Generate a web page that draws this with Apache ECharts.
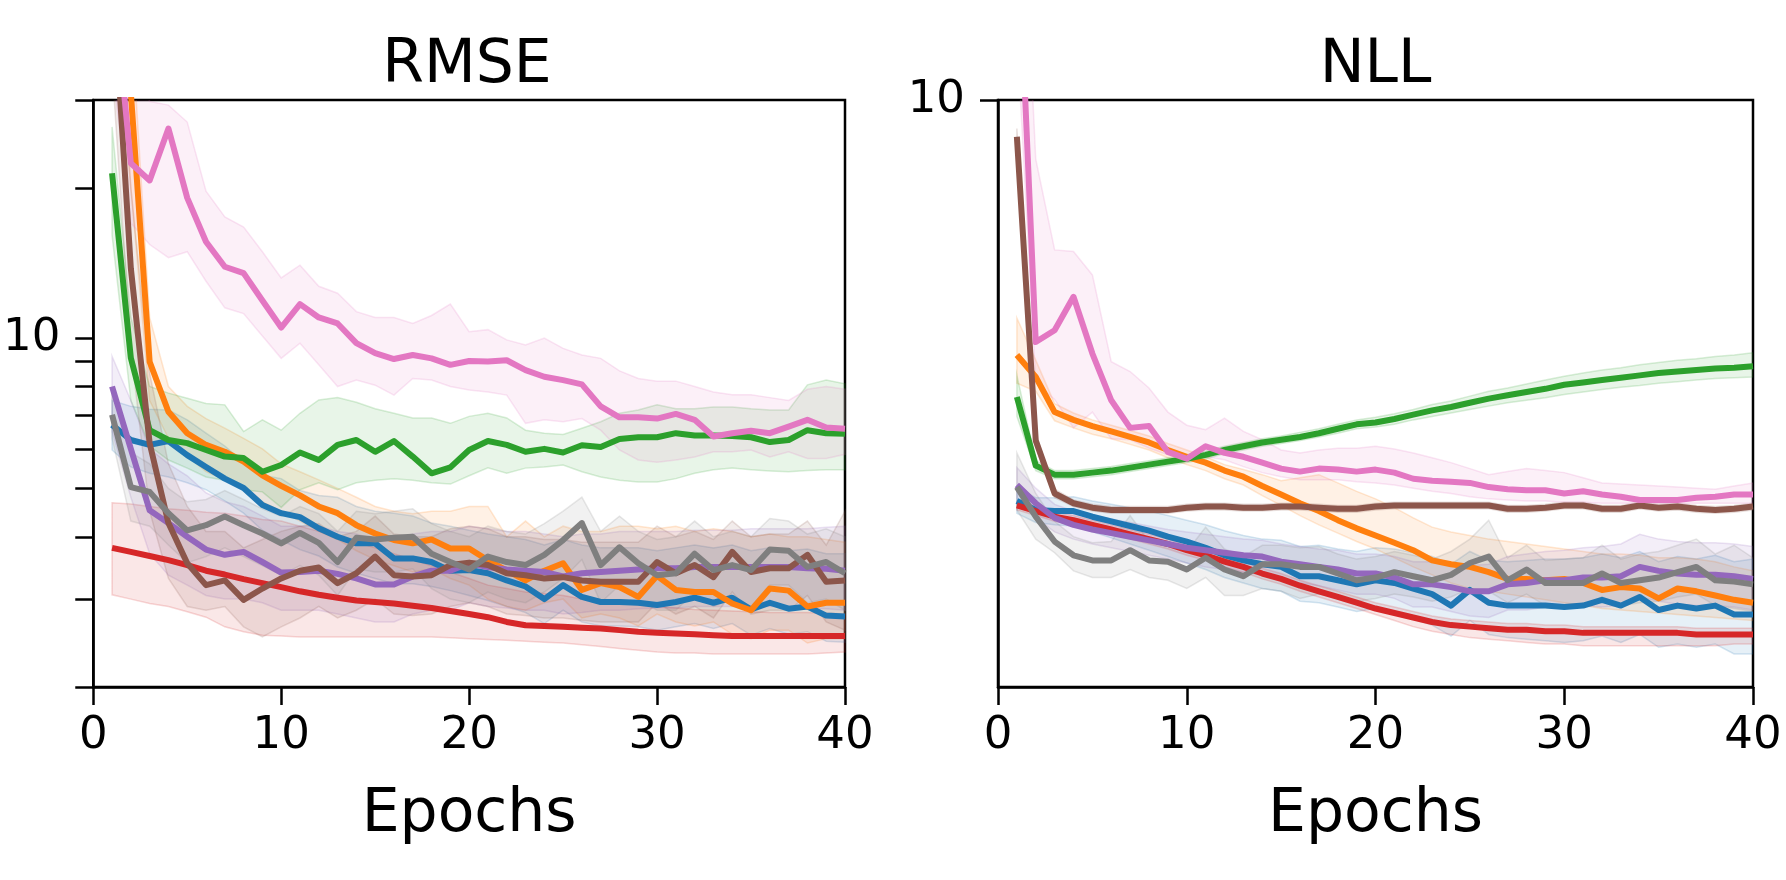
<!DOCTYPE html>
<html><head><meta charset="utf-8">
<script src="https://cdn.jsdelivr.net/npm/echarts@6/dist/echarts.min.js"></script>
<style>html,body{margin:0;padding:0;background:#fff}#chart{width:1786px;height:880px}</style>
</head><body><div id="chart"></div>
<script>
// ---------------- DATA ----------------
const epochs = [1,2,3,4,5,6,7,8,9,10,11,12,13,14,15,16,17,18,19,20,21,22,23,24,25,26,27,28,29,30,31,32,33,34,35,36,37,38,39,40];
const xTicks = [0,10,20,30,40];
const rmseTicks = [2,3,4,5,6,7,8,9,10,20,30];
const rmseLabelTicks = [10];
const nllTicks = [10];
const nllLabelTicks = [10];
const panelTitles = ['RMSE','NLL'];
const xLabel = 'Epochs';

// RMSE panel (log axis 2..30)
const rmseBlue   = [6.70,6.25,6.11,6.22,5.83,5.52,5.23,5.01,4.63,4.46,4.38,4.16,4.00,3.88,3.88,3.62,3.62,3.56,3.42,3.43,3.38,3.27,3.18,3.00,3.20,3.03,2.96,2.96,2.95,2.92,2.96,3.02,2.95,3.02,2.86,2.95,2.87,2.90,2.78,2.77];
const rmseBlueHi = [7.5,7.3,7.2,7.18,6.86,6.45,6.08,5.64,5.31,5.23,4.95,4.84,4.8,4.6,4.5,4.46,4.4,4.26,4.2,4.12,4.05,4.0,3.95,3.85,3.95,3.85,3.8,3.8,3.8,3.75,3.8,3.85,3.8,3.85,3.75,3.8,3.75,3.78,3.7,3.7];
const rmseBlueLo = [5.97,5.52,5.36,5.27,5.13,4.97,4.72,4.46,4.12,3.94,3.77,3.66,3.48,3.38,3.3,3.22,3.22,3.18,3.12,3.05,2.98,2.9,2.82,2.68,2.85,2.7,2.65,2.65,2.64,2.6,2.64,2.68,2.62,2.68,2.54,2.62,2.55,2.58,2.47,2.46];

const rmseOrange   = [80,31,8.97,7.12,6.45,6.11,5.92,5.66,5.31,5.06,4.84,4.60,4.46,4.22,4.06,3.94,3.88,3.95,3.79,3.79,3.59,3.42,3.27,3.42,3.54,3.13,3.23,3.17,3.03,3.34,3.13,3.10,3.10,2.94,2.85,3.15,3.12,2.90,2.95,2.95];
const rmseOrangeHi = [150,45,11,8.0,7.3,6.9,6.6,6.3,6.0,5.6,5.4,5.2,5.0,4.8,4.6,4.5,4.45,4.5,4.5,4.6,4.6,4.0,4.3,4.0,4.2,4.1,4.1,4.2,4.2,4.15,4.2,4.1,4.15,4.1,4.0,4.05,4.0,4.0,3.95,3.9];
const rmseOrangeLo = [50,20,7.5,6.3,5.8,5.4,5.2,5.0,4.7,4.5,4.3,4.1,3.95,3.75,3.6,3.5,3.4,3.45,3.3,3.2,3.0,2.9,2.85,2.95,3.0,2.75,2.8,2.75,2.65,2.8,2.7,2.65,2.7,2.55,2.5,2.6,2.6,2.45,2.5,2.5];

const rmseGreen   = [21.4,9.12,6.54,6.25,6.16,5.97,5.79,5.75,5.40,5.57,5.90,5.70,6.11,6.25,5.92,6.22,5.79,5.36,5.51,5.97,6.22,6.11,5.92,6.00,5.90,6.10,6.05,6.28,6.33,6.33,6.45,6.38,6.38,6.37,6.33,6.19,6.25,6.54,6.45,6.43];
const rmseGreenHi = [26.5,11,8.0,7.76,7.58,7.4,7.35,6.5,6.86,6.54,7.07,7.52,7.6,7.44,7.22,7.07,6.92,6.92,6.75,6.97,7.07,6.92,6.54,6.45,6.41,6.6,6.8,7.07,7.18,7.35,7.22,7.22,7.28,7.28,7.22,7.18,7.18,8.06,8.24,8.1];
const rmseGreenLo = [16.1,7.5,6.08,5.70,5.49,5.27,5.19,4.97,4.92,4.58,4.97,5.13,4.97,5.13,5.19,5.23,5.19,5.13,5.1,5.3,5.5,5.36,5.49,5.52,5.57,5.40,5.27,5.19,5.15,5.15,5.23,5.36,5.45,5.49,5.45,5.42,5.40,5.43,5.45,5.45];

const rmseRed   = [3.80,3.73,3.66,3.59,3.51,3.42,3.36,3.29,3.23,3.17,3.11,3.06,3.02,2.98,2.96,2.94,2.91,2.88,2.84,2.80,2.76,2.70,2.66,2.65,2.64,2.63,2.62,2.60,2.58,2.57,2.56,2.55,2.54,2.53,2.53,2.53,2.53,2.53,2.53,2.53];
const rmseRedHi = [4.68,4.65,4.6,4.55,4.52,4.48,4.46,4.4,4.33,4.3,4.2,4.1,4.0,3.9,3.8,3.7,3.6,3.5,3.4,3.3,3.2,3.15,3.1,3.08,3.05,3.0,2.98,2.95,2.92,2.9,2.88,2.86,2.85,2.84,2.83,2.82,2.82,2.82,2.81,2.8];
const rmseRedLo = [3.06,3.0,2.94,2.9,2.83,2.76,2.64,2.58,2.54,2.53,2.52,2.52,2.52,2.52,2.52,2.52,2.52,2.52,2.51,2.5,2.49,2.48,2.47,2.46,2.45,2.43,2.41,2.39,2.37,2.35,2.34,2.34,2.33,2.33,2.33,2.33,2.33,2.33,2.34,2.35];

const rmsePurple   = [8.0,6.0,4.52,4.26,4.00,3.77,3.68,3.73,3.56,3.39,3.40,3.42,3.37,3.30,3.21,3.21,3.33,3.42,3.42,3.54,3.48,3.44,3.42,3.40,3.33,3.38,3.40,3.42,3.44,3.46,3.46,3.48,3.48,3.48,3.48,3.48,3.48,3.46,3.45,3.42];
const rmsePurpleHi = [9.2,7.5,6.0,5.6,5.3,4.9,4.7,4.6,4.4,4.2,4.2,4.2,4.1,4.05,3.95,3.95,4.05,4.1,4.1,4.2,4.15,4.1,4.1,4.05,4.0,4.05,4.05,4.1,4.1,4.1,4.1,4.12,4.12,4.12,4.15,4.15,4.15,4.15,4.18,4.2];
const rmsePurpleLo = [6.5,4.8,3.7,3.35,3.2,3.05,3.0,3.0,2.95,2.85,2.85,2.85,2.8,2.75,2.7,2.7,2.8,2.85,2.85,2.95,2.9,2.88,2.85,2.85,2.8,2.82,2.85,2.85,2.87,2.88,2.88,2.9,2.9,2.9,2.9,2.9,2.9,2.88,2.87,2.85];

const rmseBrown   = [55,13.8,6.16,4.26,3.54,3.20,3.27,2.99,3.15,3.30,3.42,3.47,3.23,3.38,3.65,3.35,3.33,3.35,3.51,3.55,3.51,3.38,3.35,3.30,3.32,3.27,3.25,3.25,3.25,3.56,3.38,3.51,3.32,3.73,3.40,3.46,3.46,3.68,3.25,3.27];
const rmseBrownHi = [90,20,8.5,5.6,4.6,4.1,4.1,3.8,3.95,4.1,4.2,4.25,4.0,4.1,4.4,4.05,4.0,4.0,4.15,4.2,4.15,4.0,4.0,3.95,3.95,3.9,3.9,3.9,3.9,4.2,4.0,4.1,3.95,4.3,4.0,4.05,4.05,4.3,3.85,4.5];
const rmseBrownLo = [35,9.5,4.5,3.3,2.9,2.85,2.9,2.64,2.52,2.64,2.75,2.9,2.75,2.85,3.0,2.8,2.78,2.8,2.9,2.95,2.9,2.8,2.78,2.75,2.75,2.72,2.7,2.7,2.7,2.95,2.8,2.9,2.75,3.1,2.8,2.85,2.85,3.05,2.7,2.6];

const rmsePink   = [55,22.4,20.7,26.3,19.1,15.6,13.9,13.5,11.9,10.5,11.7,11.0,10.7,9.77,9.33,9.08,9.25,9.11,8.84,9.0,8.98,9.03,8.63,8.37,8.24,8.08,7.3,6.94,6.94,6.90,7.05,6.86,6.35,6.45,6.52,6.45,6.65,6.86,6.62,6.58];
const rmsePinkHi = [90,45,29.8,29.3,27.1,19.7,17.5,16.7,14.9,13.2,14.0,12.7,12.3,11.3,11.0,11.0,10.7,11.1,11.7,10.3,10.4,9.92,9.69,10.0,9.54,9.25,9.11,8.6,8.3,8.2,8.2,8.0,7.8,7.7,7.7,7.6,7.5,7.9,8.0,7.9];
const rmsePinkLo = [35,17,15.4,14.5,14.9,13.0,11.5,11.2,10.1,9.11,9.77,8.84,8.0,8.24,8.05,7.69,8.3,8.24,8.0,7.87,7.8,7.69,6.75,6.86,6.8,6.9,6.54,5.97,5.70,5.64,5.70,5.78,5.92,5.92,5.97,5.78,5.92,5.74,5.74,5.85];

const rmseGray   = [7.02,5.03,4.92,4.46,4.12,4.22,4.39,4.22,4.06,3.88,4.07,3.89,3.56,3.98,3.95,3.98,4.00,3.70,3.56,3.44,3.65,3.56,3.51,3.68,3.94,4.26,3.51,3.81,3.54,3.35,3.38,3.70,3.43,3.51,3.43,3.77,3.75,3.48,3.56,3.38];
const rmseGrayHi = [7.8,5.9,5.6,5.0,4.7,4.75,4.95,4.75,4.55,4.4,4.6,4.45,4.1,4.5,4.45,4.5,4.55,4.25,4.1,4.0,4.2,4.1,4.05,4.25,4.5,4.8,4.1,4.4,4.1,3.95,4.0,4.3,4.0,4.1,4.0,4.35,4.3,4.05,4.15,4.0];
const rmseGrayLo = [6.3,4.3,4.2,3.85,3.55,3.65,3.8,3.65,3.5,3.35,3.5,3.35,3.05,3.45,3.4,3.4,3.45,3.15,3.0,2.95,3.1,3.0,2.95,3.1,3.3,3.6,2.95,3.2,3.0,2.85,2.85,3.1,2.9,3.0,2.9,3.2,3.2,2.95,3.0,2.85];

// NLL panel (log axis 2..10)
const nllBlue   = [3.33,3.25,3.24,3.24,3.19,3.15,3.11,3.07,3.02,2.98,2.93,2.87,2.83,2.80,2.78,2.71,2.71,2.68,2.65,2.68,2.66,2.62,2.58,2.50,2.61,2.52,2.50,2.50,2.50,2.49,2.50,2.54,2.50,2.56,2.47,2.50,2.48,2.50,2.44,2.44];
const nllBlueHi = [3.45,3.36,3.36,3.37,3.33,3.3,3.27,3.24,3.2,3.16,3.12,3.07,3.03,3.0,2.99,2.94,2.95,2.92,2.9,2.93,2.92,2.89,2.86,2.8,2.9,2.83,2.82,2.83,2.84,2.84,2.85,2.88,2.85,2.9,2.82,2.86,2.84,2.87,2.82,2.84];
const nllBlueLo = [3.22,3.14,3.12,3.11,3.06,3.01,2.96,2.91,2.86,2.81,2.76,2.7,2.66,2.62,2.6,2.53,2.52,2.49,2.46,2.48,2.45,2.41,2.37,2.3,2.4,2.31,2.29,2.28,2.27,2.26,2.27,2.3,2.26,2.31,2.23,2.25,2.23,2.25,2.19,2.19];

const nllOrange   = [4.97,4.68,4.25,4.16,4.09,4.03,3.97,3.91,3.83,3.76,3.70,3.62,3.56,3.47,3.39,3.31,3.24,3.16,3.09,3.03,2.97,2.91,2.83,2.80,2.78,2.74,2.69,2.69,2.68,2.69,2.66,2.61,2.63,2.62,2.55,2.62,2.60,2.57,2.54,2.52];
const nllOrangeHi = [5.5,4.9,4.35,4.24,4.16,4.1,4.04,3.98,3.9,3.83,3.76,3.68,3.63,3.58,3.52,3.55,3.58,3.5,3.42,3.35,3.27,3.18,3.1,3.06,3.03,3.0,2.98,2.96,2.94,2.92,2.9,2.88,2.88,2.87,2.85,2.85,2.84,2.82,2.78,2.75];
const nllOrangeLo = [4.6,4.5,4.15,4.07,4.0,3.95,3.89,3.83,3.75,3.68,3.62,3.54,3.48,3.38,3.29,3.2,3.12,3.05,2.98,2.92,2.85,2.78,2.72,2.66,2.62,2.6,2.58,2.56,2.54,2.52,2.5,2.48,2.47,2.46,2.45,2.44,2.43,2.42,2.41,2.4];

const nllGreen   = [4.43,3.67,3.58,3.58,3.60,3.62,3.65,3.68,3.71,3.74,3.78,3.83,3.87,3.91,3.94,3.97,4.01,4.06,4.11,4.13,4.17,4.22,4.27,4.31,4.36,4.41,4.45,4.49,4.53,4.58,4.61,4.64,4.67,4.70,4.73,4.75,4.77,4.79,4.80,4.82];
const nllGreenHi = [4.7,3.72,3.62,3.62,3.64,3.66,3.69,3.72,3.75,3.78,3.82,3.87,3.91,3.95,3.98,4.02,4.06,4.11,4.16,4.19,4.23,4.28,4.34,4.38,4.44,4.5,4.54,4.59,4.64,4.69,4.73,4.77,4.8,4.84,4.87,4.9,4.92,4.95,4.97,5.0];
const nllGreenLo = [4.2,3.62,3.54,3.54,3.56,3.58,3.61,3.64,3.67,3.7,3.74,3.79,3.83,3.87,3.9,3.93,3.97,4.01,4.06,4.08,4.11,4.16,4.2,4.24,4.28,4.32,4.36,4.39,4.42,4.46,4.49,4.52,4.55,4.57,4.6,4.62,4.64,4.66,4.67,4.68];

const nllRed   = [3.29,3.24,3.19,3.16,3.12,3.08,3.04,3.00,2.96,2.91,2.87,2.82,2.78,2.73,2.69,2.64,2.60,2.56,2.52,2.48,2.45,2.42,2.39,2.37,2.36,2.35,2.34,2.34,2.33,2.33,2.32,2.32,2.32,2.32,2.32,2.32,2.31,2.31,2.31,2.31];
const nllRedHi = [3.33,3.28,3.23,3.2,3.16,3.12,3.08,3.04,3.0,2.95,2.91,2.86,2.82,2.77,2.73,2.68,2.64,2.6,2.56,2.52,2.49,2.46,2.43,2.41,2.4,2.39,2.38,2.38,2.37,2.37,2.36,2.36,2.36,2.36,2.36,2.36,2.35,2.35,2.35,2.35];
const nllRedLo = [3.25,3.2,3.15,3.12,3.08,3.04,3.0,2.96,2.92,2.87,2.83,2.78,2.74,2.69,2.65,2.6,2.56,2.52,2.48,2.44,2.4,2.36,2.33,2.31,2.29,2.28,2.27,2.26,2.25,2.25,2.24,2.24,2.24,2.24,2.24,2.24,2.24,2.24,2.25,2.25];

const nllPurple   = [3.48,3.31,3.18,3.12,3.08,3.05,3.02,2.99,2.96,2.93,2.91,2.89,2.87,2.86,2.82,2.80,2.78,2.76,2.73,2.73,2.70,2.65,2.65,2.63,2.60,2.60,2.65,2.66,2.68,2.68,2.70,2.70,2.71,2.78,2.75,2.73,2.72,2.72,2.71,2.69];
const nllPurpleHi = [3.65,3.45,3.3,3.24,3.2,3.17,3.14,3.11,3.08,3.06,3.04,3.02,3.0,2.99,2.96,2.94,2.92,2.91,2.88,2.88,2.86,2.82,2.82,2.81,2.79,2.8,2.86,2.88,2.9,2.91,2.93,2.94,2.96,3.04,3.0,2.98,2.97,2.97,2.96,2.94];
const nllPurpleLo = [3.35,3.18,3.06,3.0,2.96,2.93,2.9,2.87,2.84,2.81,2.78,2.76,2.74,2.72,2.68,2.66,2.64,2.61,2.58,2.58,2.55,2.49,2.49,2.46,2.43,2.42,2.47,2.47,2.49,2.48,2.5,2.49,2.5,2.56,2.53,2.51,2.5,2.5,2.49,2.47];

const nllBrown   = [9.04,3.93,3.40,3.31,3.27,3.25,3.25,3.25,3.25,3.27,3.28,3.28,3.27,3.27,3.28,3.28,3.27,3.26,3.26,3.28,3.29,3.29,3.29,3.29,3.29,3.29,3.26,3.26,3.27,3.29,3.29,3.26,3.26,3.29,3.27,3.28,3.26,3.25,3.26,3.28];
const nllBrownHi = [9.25,4.0,3.44,3.34,3.3,3.28,3.28,3.28,3.28,3.3,3.31,3.31,3.3,3.3,3.31,3.31,3.3,3.29,3.29,3.31,3.32,3.32,3.32,3.32,3.32,3.32,3.29,3.29,3.3,3.32,3.32,3.29,3.29,3.32,3.3,3.31,3.29,3.28,3.29,3.31];
const nllBrownLo = [8.85,3.86,3.36,3.28,3.24,3.22,3.22,3.22,3.22,3.24,3.25,3.25,3.24,3.24,3.25,3.25,3.24,3.23,3.23,3.25,3.26,3.26,3.26,3.26,3.26,3.26,3.23,3.23,3.24,3.26,3.26,3.23,3.23,3.26,3.24,3.25,3.23,3.22,3.23,3.25];

const nllPink   = [17,5.15,5.32,5.83,4.99,4.39,4.07,4.09,3.81,3.74,3.87,3.80,3.76,3.70,3.64,3.61,3.64,3.63,3.61,3.63,3.60,3.54,3.52,3.51,3.50,3.46,3.44,3.43,3.43,3.40,3.42,3.39,3.37,3.34,3.34,3.34,3.36,3.37,3.39,3.39];
const nllPinkHi = [25,8.5,6.63,6.6,6.19,4.88,4.75,4.54,4.25,4.10,4.05,4.18,4.03,3.94,3.83,3.80,3.83,3.85,3.85,3.87,3.84,3.80,3.75,3.70,3.64,3.58,3.61,3.64,3.62,3.60,3.55,3.50,3.49,3.48,3.47,3.46,3.45,3.44,3.47,3.50];
const nllPinkLo = [12,4.6,4.4,4.07,4.25,3.95,3.94,3.85,3.78,3.73,3.76,3.73,3.66,3.60,3.56,3.53,3.53,3.53,3.51,3.50,3.48,3.45,3.42,3.40,3.37,3.35,3.34,3.33,3.33,3.32,3.32,3.31,3.31,3.31,3.31,3.31,3.31,3.31,3.31,3.31];

const nllGray   = [3.46,3.19,2.98,2.87,2.83,2.83,2.91,2.83,2.82,2.76,2.85,2.76,2.71,2.80,2.80,2.78,2.78,2.73,2.68,2.70,2.74,2.71,2.68,2.72,2.81,2.86,2.68,2.76,2.66,2.66,2.66,2.73,2.66,2.68,2.70,2.74,2.78,2.68,2.67,2.65];
const nllGrayHi = [3.8,3.4,3.15,3.02,2.97,2.98,3.2,2.98,2.97,2.9,3.1,2.92,2.86,2.95,2.95,2.93,2.94,2.88,2.84,2.86,2.9,2.87,2.84,2.9,3.0,3.16,2.85,2.95,2.83,2.84,2.85,2.95,2.84,2.88,2.9,2.95,3.0,2.88,2.95,2.85];
const nllGrayLo = [3.25,3.0,2.89,2.75,2.7,2.7,2.76,2.7,2.68,2.62,2.7,2.57,2.57,2.62,2.6,2.55,2.58,2.56,2.53,2.55,2.58,2.56,2.53,2.56,2.62,2.6,2.52,2.58,2.5,2.5,2.5,2.56,2.5,2.52,2.53,2.56,2.58,2.5,2.48,2.46];

// ---------------- STYLE ----------------
const colors = ['#1f77b4','#ff7f0e','#2ca02c','#d62728','#9467bd','#8c564b','#e377c2','#7f7f7f'];
const rmseSets = [
  [rmseBlue, rmseBlueLo, rmseBlueHi], [rmseOrange, rmseOrangeLo, rmseOrangeHi], [rmseGreen, rmseGreenLo, rmseGreenHi],
  [rmseRed, rmseRedLo, rmseRedHi], [rmsePurple, rmsePurpleLo, rmsePurpleHi], [rmseBrown, rmseBrownLo, rmseBrownHi],
  [rmsePink, rmsePinkLo, rmsePinkHi], [rmseGray, rmseGrayLo, rmseGrayHi]
];
const nllSets = [
  [nllBlue, nllBlueLo, nllBlueHi], [nllOrange, nllOrangeLo, nllOrangeHi], [nllGreen, nllGreenLo, nllGreenHi],
  [nllRed, nllRedLo, nllRedHi], [nllPurple, nllPurpleLo, nllPurpleHi], [nllBrown, nllBrownLo, nllBrownHi],
  [nllPink, nllPinkLo, nllPinkHi], [nllGray, nllGrayLo, nllGrayHi]
];
const FONT = 'DejaVu Sans';
const GRIDS = [
  {left: 89, top: 100, width: 756, height: 587},
  {left: 998, top: 100, width: 755, height: 587}
];
function rgba(hex, a) {
  const n = parseInt(hex.slice(1), 16);
  return 'rgba(' + ((n >> 16) & 255) + ',' + ((n >> 8) & 255) + ',' + (n & 255) + ',' + a + ')';
}

function bandSeries(xIdx, yIdx, lo, hi, c) {
  return {
    type: 'custom', xAxisIndex: xIdx, yAxisIndex: yIdx, silent: true, clip: true,
    data: epochs.map(function (e, i) { return [e, lo[i], hi[i]]; }),
    encode: {x: 0, y: [1, 2]},
    renderItem: function (params, api) {
      if (params.dataIndex !== 0) return null;
      const pts = [];
      for (let i = 0; i < epochs.length; i++) pts.push(api.coord([epochs[i], hi[i]]));
      for (let i = epochs.length - 1; i >= 0; i--) pts.push(api.coord([epochs[i], lo[i]]));
      return {
        type: 'polygon', shape: {points: pts},
        style: {fill: rgba(c, 0.11), stroke: rgba(c, 0.18), lineWidth: 1.5}
      };
    }
  };
}

function panelSeries(sets, xIdx, yIdx) {
  const out = [];
  sets.forEach(function (s, k) {
    const mean = s[0], lo = s[1], hi = s[2], c = colors[k];
    out.push({
      type: 'line', xAxisIndex: xIdx, yAxisIndex: yIdx, silent: true,
      symbol: 'none', showSymbol: false,
      data: epochs.map(function (e, i) { return [e, mean[i]]; }),
      lineStyle: {color: c, width: 6, join: 'round', cap: 'butt'},
      emphasis: {disabled: true}
    });
    out.push(bandSeries(xIdx, yIdx, lo, hi, c));
  });
  return out;
}

function xAxisFor(gi) {
  return {
    type: 'value', gridIndex: gi, min: xTicks[0], max: xTicks[xTicks.length - 1], interval: 10,
    axisLine: {show: true, onZero: false, lineStyle: {color: '#000', width: 2.5}},
    axisTick: {show: true, length: 18, lineStyle: {color: '#000', width: 2.5}},
    axisLabel: {show: true, fontSize: 45, fontFamily: FONT, color: '#000', margin: 27, lineHeight: 45,
      customValues: xTicks, formatter: function (v) { return String(v); }},
    splitLine: {show: false},
    name: xLabel, nameLocation: 'middle', nameGap: 98,
    nameTextStyle: {fontSize: 60, fontFamily: FONT, color: '#000', lineHeight: 60}
  };
}
function logAxisFor(gi, lo, hi) {
  return {
    type: 'log', logBase: 10, gridIndex: gi, min: lo, max: hi, position: 'left',
    axisLine: {show: true, onZero: false, lineStyle: {color: '#000', width: 2.5}},
    axisTick: {show: false}, axisLabel: {show: false}, splitLine: {show: false}, minorTick: {show: false}
  };
}
function tickAxisFor(gi, ticks, labelTicks, lo, hi) {
  return {
    type: 'value', gridIndex: gi, position: 'left', min: Math.log10(lo), max: Math.log10(hi),
    axisLine: {show: false, onZero: false},
    axisTick: {show: true, length: 18, lineStyle: {color: '#000', width: 2.5}, customValues: ticks.map(Math.log10)},
    axisLabel: {show: true, fontSize: 45, fontFamily: FONT, color: '#000', margin: 33,
      customValues: labelTicks.map(Math.log10),
      formatter: function (v) { return String(Math.round(Math.pow(10, v))); }},
    splitLine: {show: false}
  };
}

const option = {
  animation: false,
  backgroundColor: '#fff',
  grid: GRIDS.map(function (g) {
    return Object.assign({show: true, borderColor: '#000', borderWidth: 2.5, backgroundColor: 'transparent', containLabel: false}, g);
  }),
  xAxis: [xAxisFor(0), xAxisFor(1)],
  yAxis: [
    logAxisFor(0, rmseTicks[0], rmseTicks[rmseTicks.length - 1]),
    tickAxisFor(0, rmseTicks, rmseLabelTicks, rmseTicks[0], rmseTicks[rmseTicks.length - 1]),
    logAxisFor(1, 2, nllTicks[0]),
    tickAxisFor(1, nllTicks, nllLabelTicks, 2, nllTicks[0])
  ],
  graphic: panelTitles.map(function (t, i) {
    return {
      type: 'text', x: GRIDS[i].left + GRIDS[i].width / 2, y: 66, silent: true,
      style: {text: t, fontSize: 60, fontFamily: FONT, fill: '#000', align: 'center', verticalAlign: 'middle'}
    };
  }),
  series: panelSeries(rmseSets, 0, 0).concat(panelSeries(nllSets, 1, 2))
};

const chart = echarts.init(document.getElementById('chart'), null, {renderer: 'canvas'});
chart.setOption(option);
</script>
</body></html>
